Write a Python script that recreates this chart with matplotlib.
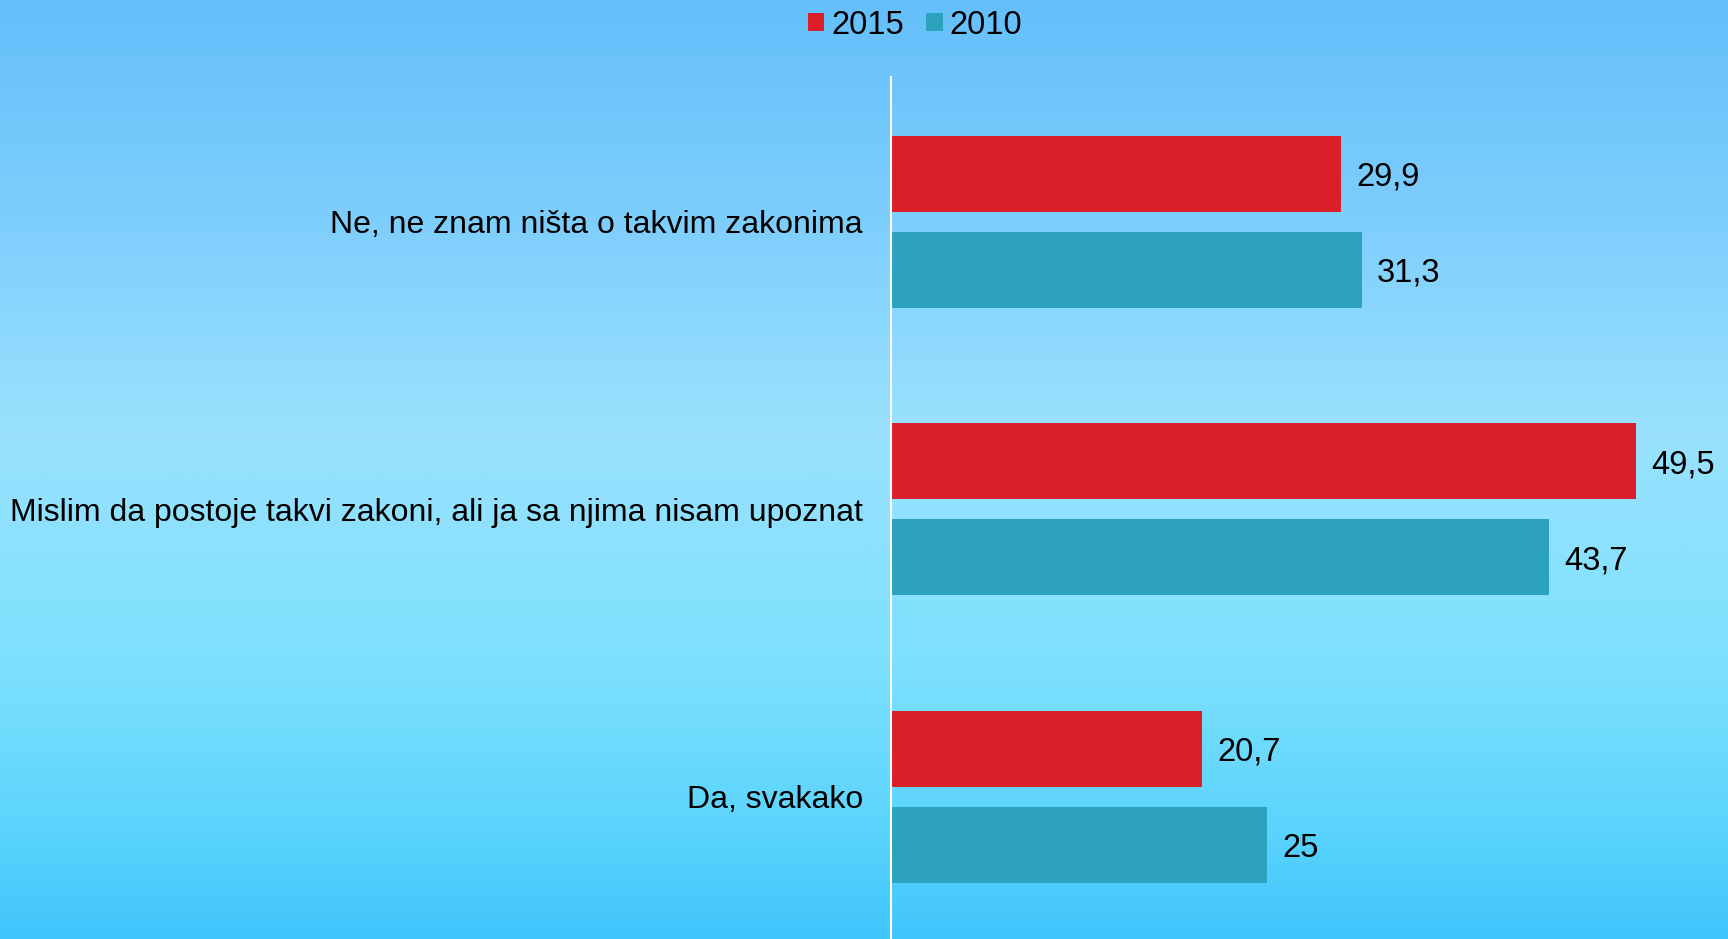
import numpy as np
import matplotlib
matplotlib.use("Agg")
import matplotlib.pyplot as plt
from matplotlib.colors import LinearSegmentedColormap

categories = ["Ne, ne znam ništa o takvim zakonima",
              "Mislim da postoje takvi zakoni, ali ja sa njima nisam upoznat",
              "Da, svakako"]
series_names = ["2015", "2010"]
values_2015 = [29.9, 49.5, 20.7]
values_2010 = [31.3, 43.7, 25.0]
labels_2015 = ["29,9", "49,5", "20,7"]
labels_2010 = ["31,3", "43,7", "25"]

c2015 = "#da1f28"
c2010 = "#2ca2bf"

plt.rcParams['font.family'] = ['Liberation Sans', 'DejaVu Sans']
fig = plt.figure(figsize=(17.28, 9.39), dpi=100)

# background gradient
bg = fig.add_axes([0, 0, 1, 1], zorder=0)
cmap = LinearSegmentedColormap.from_list("bg", [
    (0.0, "#64bffa"), (0.25, "#80cffd"), (0.46, "#9ae2fe"),
    (0.70, "#7ee1fe"), (0.88, "#5cd4fd"), (1.0, "#40c5fc")])
grad = np.linspace(0, 1, 512).reshape(-1, 1)
bg.imshow(grad, aspect='auto', cmap=cmap, extent=[0, 1, 0, 1], origin='upper')
bg.set_axis_off()

x0 = 890.5 / 1728
ax = fig.add_axes([x0, 0, 1 - x0, 1 - 77 / 939], zorder=1)
ax.patch.set_alpha(0)

y = np.arange(len(categories))
off = 0.167
h = 0.264
b1 = ax.barh(y - off, values_2015, height=h, color=c2015, label=series_names[0])
b2 = ax.barh(y + off, values_2010, height=h, color=c2010, label=series_names[1])

for bars, labs in ((b1, labels_2015), (b2, labels_2010)):
    for bar, lab in zip(bars, labs):
        ax.annotate(lab, (bar.get_width(), bar.get_y() + bar.get_height() / 2),
                    xytext=(15, 0), textcoords='offset pixels',
                    ha='left', va='center_baseline', fontsize=23.5, color='black')

ax.set_xlim(0, 837.5 / 15.07)
ax.set_ylim(2.494, -0.503)
ax.set_yticks(y)
ax.set_yticklabels(categories, fontsize=23)
ax.tick_params(axis='y', length=0, pad=19.8)
ax.set_xticks([])
for s in ['top', 'right', 'bottom']:
    ax.spines[s].set_visible(False)
ax.spines['left'].set_color('white')
ax.spines['left'].set_linewidth(1.5)

fig.legend(handles=[b1, b2], labels=series_names, loc='center',
           bbox_to_anchor=(915 / 1728, 1 - 25 / 939), ncol=2, frameon=False,
           fontsize=23.5, handlelength=0.5, handleheight=0.5, handletextpad=0.2,
           columnspacing=0.7, borderaxespad=0)

fig.savefig("out.png", dpi=100)
